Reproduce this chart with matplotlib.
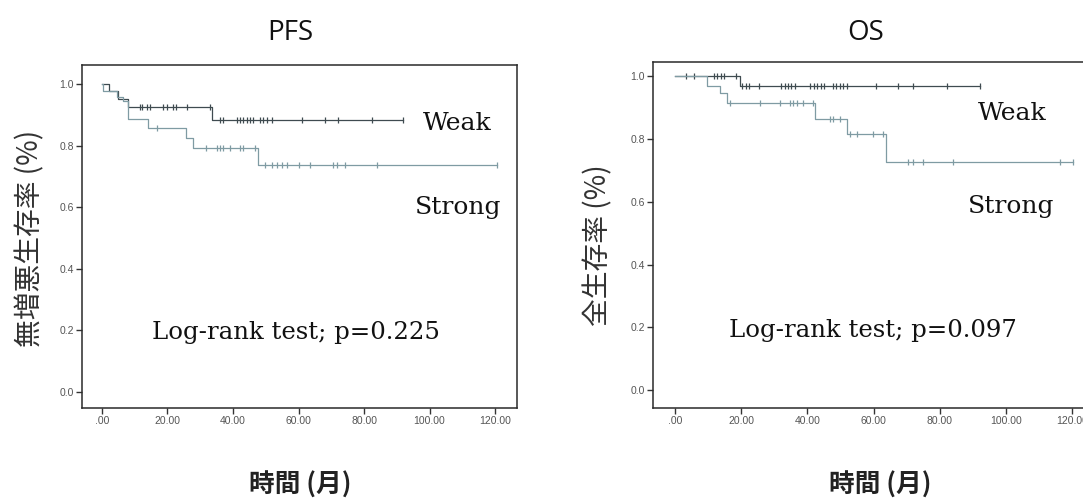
import numpy as np
import matplotlib
matplotlib.use("Agg")
import matplotlib.pyplot as plt

# ---------------- data ----------------
# PFS
pfs_weak_t = [0.0, 2.1, 5.0, 8.0, 33.5, 92.0]
pfs_weak_s = [1.0, 0.976, 0.952, 0.926, 0.883, 0.883]
pfs_weak_cens = [11.6, 12.3, 13.6, 14.7, 18.7, 19.8, 21.8, 22.5, 25.9, 32.9,
                 36.0, 37.0, 41.1, 42.1, 43.1, 44.2, 45.2, 46.2, 48.2, 49.3,
                 50.3, 51.8, 61.0, 68.1, 72.2, 82.3, 92.0]
pfs_strong_t = [0.0, 0.3, 4.5, 6.5, 8.0, 14.1, 25.8, 27.9, 47.7, 120.5]
pfs_strong_s = [1.0, 0.976, 0.959, 0.945, 0.888, 0.856, 0.824, 0.791, 0.737, 0.737]
pfs_strong_cens = [16.7, 31.9, 35.0, 36.0, 37.0, 39.1, 42.1, 43.1, 46.7, 49.8,
                   51.8, 53.3, 54.9, 56.4, 60.0, 63.5, 70.6, 71.6, 74.2, 83.9, 120.5]

# OS
os_weak_t = [0.0, 19.6, 92.1]
os_weak_s = [1.0, 0.967, 0.967]
os_weak_cens = [3.5, 5.8, 11.9, 12.8, 13.8, 14.8, 18.6, 20.3, 21.4, 22.4, 25.5,
                32.2, 33.2, 34.2, 35.2, 36.2, 40.8, 42.0, 43.0, 44.0, 45.0,
                47.8, 48.8, 49.8, 50.8, 51.9, 60.9, 67.4, 72.0, 82.1, 92.1]
os_strong_t = [0.0, 9.8, 13.5, 15.8, 42.3, 51.9, 63.9, 120.3]
os_strong_s = [1.0, 0.969, 0.945, 0.915, 0.865, 0.817, 0.727, 0.727]
os_strong_cens = [16.6, 25.7, 31.7, 34.7, 35.7, 36.8, 38.7, 41.8, 46.8, 47.8,
                  49.8, 52.9, 54.9, 59.9, 62.9, 70.5, 72.0, 75.0, 84.0, 116.3, 120.3]

x_ticks = [0, 20, 40, 60, 80, 100, 120]
x_tick_labels = [".00", "20.00", "40.00", "60.00", "80.00", "100.00", "120.00"]
y_ticks = [0.0, 0.2, 0.4, 0.6, 0.8, 1.0]
y_tick_labels = ["0.0", "0.2", "0.4", "0.6", "0.8", "1.0"]

titles = ["PFS", "OS"]
ylabels = ["無増悪生存率 (%)", "全生存率 (%)"]
xlabel = "時間 (月)"
pvals = ["Log-rank test; p=0.225", "Log-rank test; p=0.097"]

# ---------------- style ----------------
W, H = 1083, 499
fig = plt.figure(figsize=(W / 100, H / 100), dpi=100)
fig.patch.set_facecolor("white")

weak_col = "#3f4b50"
strong_col = "#7f9ba3"
cjk = ["Noto Sans CJK JP", "DejaVu Sans"]
serif = ["DejaVu Serif"]


def px_axes(l, r, t, b):
    return fig.add_axes([l / W, 1 - b / H, (r - l) / W, (b - t) / H])


def fx(x):
    return x / W


def fy(y):
    return 1 - y / H


def km(ax, t, s, cens, color):
    ax.step(t, s, where="post", color=color, lw=0.9)
    t_arr = np.asarray(t)
    s_arr = np.asarray(s)
    idx = np.searchsorted(t_arr, np.asarray(cens), side="right") - 1
    ax.plot(cens, s_arr[idx], ls="none", marker="|", ms=5, mew=0.9, color=color)


def style(ax, xlim, ylim):
    ax.set_xlim(*xlim)
    ax.set_ylim(*ylim)
    ax.set_xticks(x_ticks)
    ax.set_xticklabels(x_tick_labels)
    ax.set_yticks(y_ticks)
    ax.set_yticklabels(y_tick_labels)
    for sp in ax.spines.values():
        sp.set_color("#2a2a2a")
        sp.set_linewidth(1.1)
    ax.tick_params(direction="out", length=4, width=1, color="#333333",
                   labelsize=7.5, labelcolor="#555555", pad=2)
    for lab in ax.get_xticklabels() + ax.get_yticklabels():
        lab.set_family("Liberation Sans")


# PFS panel
ax1 = px_axes(82, 517, 65, 408)
km(ax1, pfs_weak_t, pfs_weak_s, pfs_weak_cens, weak_col)
km(ax1, pfs_strong_t, pfs_strong_s, pfs_strong_cens, strong_col)
style(ax1, (-6.1, 126.7), (-0.052, 1.062))

# OS panel (right edge extends past the figure, as in the reference)
ax2 = px_axes(653, 1094, 62, 408)
km(ax2, os_weak_t, os_weak_s, os_weak_cens, weak_col)
km(ax2, os_strong_t, os_strong_s, os_strong_cens, strong_col)
style(ax2, (-6.6, 126.6), (-0.057, 1.045))

# titles
fig.text(fx(290), fy(33), titles[0], ha="center", va="center", fontsize=20,
         family=["Open Sans", "DejaVu Sans"], color="#111111")
fig.text(fx(866), fy(33), titles[1], ha="center", va="center", fontsize=20,
         family=["Open Sans", "DejaVu Sans"], color="#111111")

# axis labels
fig.text(fx(300), fy(485), xlabel, ha="center", va="center", fontsize=18.5,
         family=cjk, fontweight="bold", color="#222222")
fig.text(fx(880), fy(485), xlabel, ha="center", va="center", fontsize=18.5,
         family=cjk, fontweight="bold", color="#222222")
fig.text(fx(30), fy(238), ylabels[0], ha="center", va="center", fontsize=20,
         family=cjk, rotation=90, color="#333333")
fig.text(fx(598), fy(245), ylabels[1], ha="center", va="center", fontsize=20,
         family=cjk, rotation=90, color="#333333")

# in-plot annotations
fig.text(fx(423), fy(123), "Weak", ha="left", va="center", fontsize=18, family=serif, color="#111111")
fig.text(fx(415), fy(207), "Strong", ha="left", va="center", fontsize=18, family=serif, color="#111111")
fig.text(fx(296), fy(333), pvals[0], ha="center", va="center", fontsize=17.6, family=serif, color="#111111")
fig.text(fx(978), fy(113), "Weak", ha="left", va="center", fontsize=18, family=serif, color="#111111")
fig.text(fx(968), fy(206), "Strong", ha="left", va="center", fontsize=18, family=serif, color="#111111")
fig.text(fx(873), fy(330), pvals[1], ha="center", va="center", fontsize=17.6, family=serif, color="#111111")

fig.savefig("out.png", dpi=100, facecolor="white")
